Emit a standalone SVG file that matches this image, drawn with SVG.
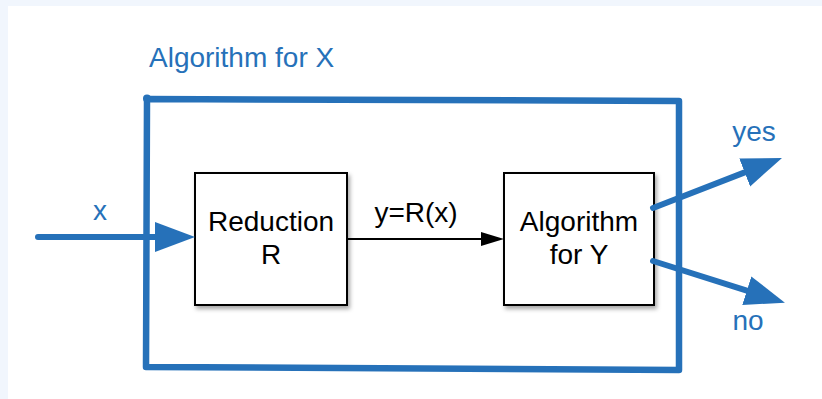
<svg xmlns="http://www.w3.org/2000/svg" width="822" height="399" viewBox="0 0 822 399">
  <style>
    .blue-text { font-family: "Liberation Sans", Arial, sans-serif; font-size: 28px; fill: #2671B9; }
    .black-text { font-family: "Liberation Sans", Arial, sans-serif; font-size: 28px; fill: #000000; text-anchor: middle; }
    .box { fill: #ffffff; stroke: #000000; stroke-width: 2; }
    .blue-line { fill: none; stroke: #2671B9; stroke-width: 6; stroke-linecap: round; }
    .black-line { fill: none; stroke: #000000; stroke-width: 2; }
  </style>
  <defs>
    <marker id="blueHead" markerUnits="userSpaceOnUse" markerWidth="42" markerHeight="32" viewBox="0 -16 42 32" refX="0" refY="0" orient="auto">
      <path d="M0,-15 L40,0 L0,15 Z" fill="#2671B9"/>
    </marker>
    <marker id="blackHead" markerUnits="userSpaceOnUse" markerWidth="24" markerHeight="16" viewBox="0 -8 24 16" refX="0" refY="0" orient="auto">
      <path d="M0,-7 L23,0 L0,7 Z" fill="#000000"/>
    </marker>
    <filter id="shadow" x="-10%" y="-10%" width="130%" height="130%">
      <feDropShadow dx="2" dy="3" stdDeviation="2" flood-color="#000000" flood-opacity="0.35"/>
    </filter>
  </defs>

  <rect x="0" y="0" width="822" height="399" fill="#F1F6FD"/>
  <rect x="8" y="6" width="814" height="393" fill="#ffffff"/>

  <g id="algorithm-x">
    <path d="M147,99 L679,101 L679,370 L146,367 Z" fill="none" stroke="#2671B9" stroke-width="6.5" stroke-linejoin="round"/>
    <circle cx="147" cy="98.5" r="4" fill="#2671B9"/>
    <text class="blue-text" x="149" y="67">Algorithm for X</text>
  </g>

  <g id="reduction">
    <rect class="box" x="195" y="173" width="152" height="132" filter="url(#shadow)"/>
    <text class="black-text" x="271" y="231">Reduction</text>
    <text class="black-text" x="271" y="264">R</text>
  </g>

  <g id="algorithm-y">
    <rect class="box" x="504" y="173" width="150" height="132" filter="url(#shadow)"/>
    <text class="black-text" x="579" y="231">Algorithm</text>
    <text class="black-text" x="579" y="264">for Y</text>
  </g>

  <g id="connectors">
    <path class="blue-line" d="M38,237 L155,237" marker-end="url(#blueHead)"/>
    <path class="black-line" d="M347,239 L481,239" marker-end="url(#blackHead)"/>
    <path class="blue-line" d="M653,208 L744.7,172.4" marker-end="url(#blueHead)"/>
    <path class="blue-line" d="M653,261 L746.8,290.7" marker-end="url(#blueHead)"/>
  </g>

  <g id="labels">
    <text class="blue-text" x="100" y="220" text-anchor="middle">x</text>
    <text class="black-text" x="416" y="222">y=R(x)</text>
    <text class="blue-text" x="754" y="141" text-anchor="middle">yes</text>
    <text class="blue-text" x="748" y="330" text-anchor="middle">no</text>
  </g>
</svg>
